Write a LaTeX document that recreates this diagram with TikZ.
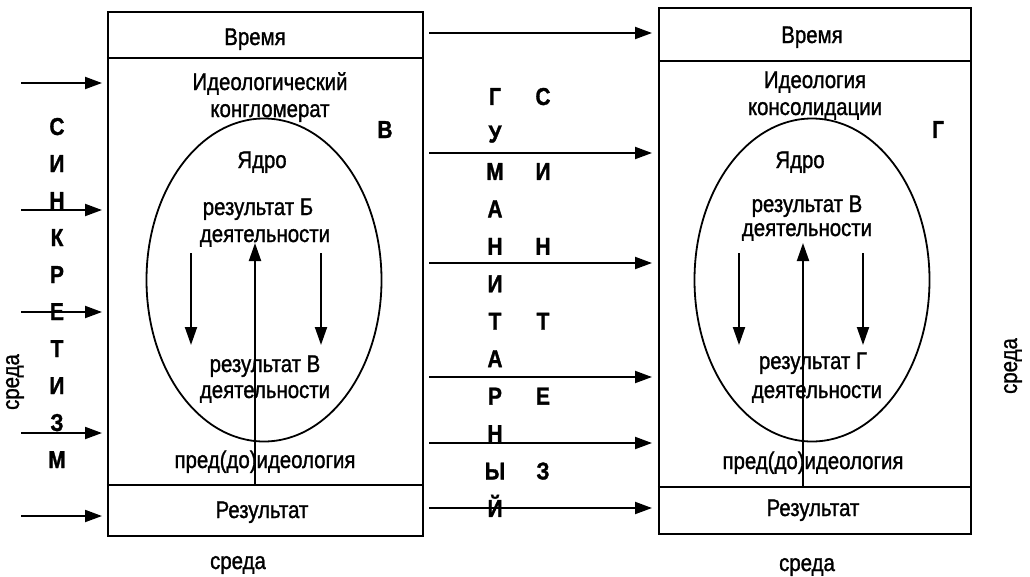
\documentclass[tikz,border=0pt]{standalone}
\usepackage{fontspec}
\setmainfont{Liberation Sans}[FakeStretch=0.85,FakeBold=1.2]
\usetikzlibrary{shapes,arrows.meta}
\newcommand{\vword}[5]{
  \foreach \ch [count=\i from 0] in {#5}
    \node[letter] (#1\i) at (#2,#3+#4*\i) {\ch};
}
\tikzset{
  every node/.style = {font=\fontsize{24}{26}\selectfont, inner sep=0pt},
  frame/.style      = {draw, line width=2.2pt, rectangle},
  divider/.style    = {line width=2.2pt},
  core/.style       = {draw, line width=1.8pt, ellipse},
  letter/.style     = {font=\fontsize{24.5}{26}\selectfont\bfseries, anchor=base},
  txt/.style        = {anchor=base},
  flow/.style       = {line width=2pt, -{Triangle[length=17pt,width=12pt]}},
  inflow/.style     = {line width=2pt, -{Triangle[length=18pt,width=12pt]}}
}
\begin{document}
\begin{tikzpicture}[x=1pt,y=-1pt]
  \useasboundingbox (0,0) rectangle (1030,576);
  \node[frame, minimum width=315pt, minimum height=524pt] (A) at (265.5,274) {};
  \node[frame, minimum width=312pt, minimum height=526pt] (B) at (815,271) {};
  \draw[divider] (A.west |- 0,58) -- (A.east |- 0,58);
  \draw[divider] (A.west |- 0,485) -- (A.east |- 0,485);
  \draw[divider] (B.west |- 0,61) -- (B.east |- 0,61);
  \draw[divider] (B.west |- 0,487) -- (B.east |- 0,487);
  \node[core, minimum width=235pt, minimum height=323pt] (Ae) at (264,280) {};
  \node[core, minimum width=235pt, minimum height=323pt] (Be) at (812,280) {};

  \node[txt] (A1) at (255,45) {Время};
  \node[txt] (A2) at (270,90) {Идеологический};
  \node[txt] (A3) at (270,117) {конгломерат};
  \node[txt] (A4) at (262,168) {Ядро};
  \node[txt] (A5) at (258,215) {результат Б};
  \node[txt] (A6) at (265,242) {деятельности};
  \node[txt] (A7) at (265,372) {результат В};
  \node[txt] (A8) at (265,398) {деятельности};
  \node[txt] (A9) at (265,468) {пред(до)идеология};
  \node[txt] (A10) at (262,518) {Результат};
  \node[txt] (A11) at (238,569) {среда};
  \node[rotate=90] (A12) at (15,382) {среда};
  \node[letter] (AL) at (385,138) {В};

  \node[txt] (B1) at (812,43) {Время};
  \node[txt] (B2) at (815,88) {Идеология};
  \node[txt] (B3) at (815,115) {консолидации};
  \node[txt] (B4) at (800,168) {Ядро};
  \node[txt] (B5) at (807,212) {результат В};
  \node[txt] (B6) at (807,236) {деятельности};
  \node[txt] (B7) at (813,369) {результат Г};
  \node[txt] (B8) at (817,398) {деятельности};
  \node[txt] (B9) at (813,469) {пред(до)идеология};
  \node[txt] (B10) at (813,516) {Результат};
  \node[txt] (B11) at (807,571) {среда};
  \node[rotate=90] (B12) at (1013,366) {среда};
  \node[letter] (BL) at (938,138) {Г};

  \vword{S}{57}{135}{37}{С,И,Н,К,Р,Е,Т,И,З,М}
  \vword{G}{495}{105}{37.45}{Г,У,М,А,Н,И,Т,А,Р,Н,Ы,Й}
  \vword{T}{543}{105}{74.9}{С,И,Н,Т,Е,З}

  \coordinate (Au) at (255,485);  \coordinate (Ad) at (255,243);
  \coordinate (Bu) at (803,487);  \coordinate (Bd) at (803,243);
  \draw[inflow] (Au) -- (Ad);
  \draw[inflow] (Bu) -- (Bd);
  \foreach \x in {191,321,739,863}{
    \coordinate (p\x) at (\x,253);
    \coordinate (q\x) at (\x,345);
    \draw[inflow] (p\x) -- (q\x);
  }
  \foreach \y [count=\i] in {33,153,263,377,443,508}{
    \coordinate (g\i) at (429,\y);
    \coordinate (h\i) at (652,\y);
    \draw[flow] (g\i) -- (h\i);
  }
  \foreach \y [count=\i] in {83,210,312,433,516}{
    \coordinate (e\i) at (21,\y);
    \coordinate (f\i) at (102,\y);
    \draw[flow] (e\i) -- (f\i);
  }
\end{tikzpicture}
\end{document}
